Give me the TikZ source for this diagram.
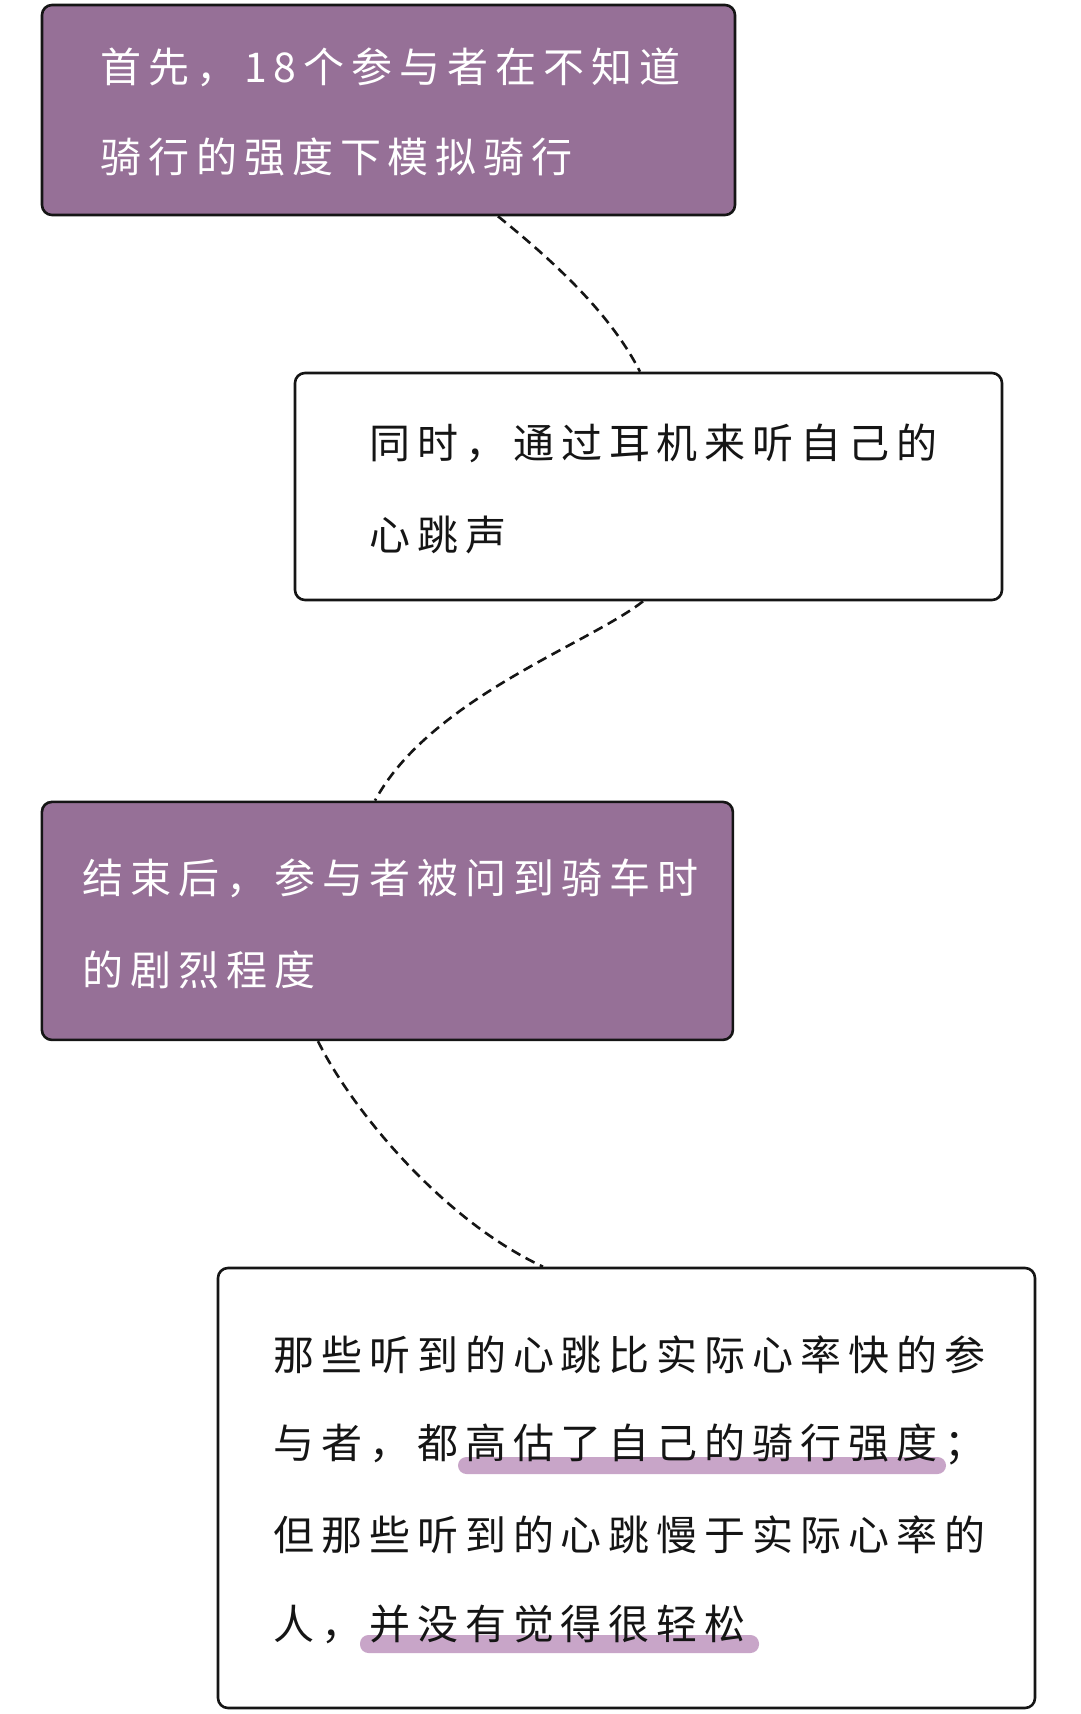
\documentclass[tikz,border=0pt]{standalone}
\usepackage{fontspec}
\newfontfamily\cjk[LetterSpace=17]{Noto Sans CJK SC}
\definecolor{boxpurple}{HTML}{967097}
\definecolor{hilitecol}{HTML}{C8A5C8}
\definecolor{inkblack}{HTML}{151515}
\begin{document}
\begin{tikzpicture}[x=1pt,y=-1pt,
  box/.style={rectangle, draw=inkblack, line width=2.6pt, rounded corners=10pt, inner sep=0pt},
  purplebox/.style={box, fill=boxpurple},
  whitebox/.style={box, fill=white},
  txt/.style={inner sep=0pt, anchor=base west, font=\cjk\fontsize{41}{48}\selectfont},
  wtxt/.style={txt, text=white},
  btxt/.style={txt, text=inkblack},
  hilite/.style={fill=hilitecol, rounded corners=8.5pt},
  link/.style={draw=inkblack, line width=2.6pt, dash pattern=on 10pt off 6pt}
]
\useasboundingbox (0,0) rectangle (1080,1714);
\fill[white] (0,0) rectangle (1080,1714);

% boxes
\node[purplebox, minimum width=693pt, minimum height=210pt] (b1) at (388.5,110) {};
\node[whitebox, minimum width=707pt, minimum height=227pt] (b2) at (648.5,486.5) {};
\node[purplebox, minimum width=691pt, minimum height=238pt] (b3) at (387.4,920.9) {};
\node[whitebox, minimum width=817pt, minimum height=440pt] (b4) at (626.5,1488) {};

% highlights
\fill[hilite] (458,1457) rectangle (946,1474);
\fill[hilite] (360,1635) rectangle (759,1653);

% texts
\node[wtxt] (t1a) at (100,82) {首先，18个参与者在不知道};
\node[wtxt] (t1b) at (100,172) {骑行的强度下模拟骑行};

\node[btxt] (t2a) at (369,458) {同时，通过耳机来听自己的};
\node[btxt] (t2b) at (369,550) {心跳声};

\node[wtxt] (t3a) at (82,893) {结束后，参与者被问到骑车时};
\node[wtxt] (t3b) at (82,985) {的剧烈程度};

\node[btxt] (t4a) at (273,1370) {那些听到的心跳比实际心率快的参};
\node[btxt] (t4b) at (273,1458) {与者，都高估了自己的骑行强度；};
\node[btxt] (t4c) at (273,1550) {但那些听到的心跳慢于实际心率的};
\node[btxt] (t4d) at (273,1639) {人，并没有觉得很轻松};

% connectors
\draw[link] ([xshift=109.5pt]b1.south) .. controls +(62,50) and +(-28,-55) .. ([xshift=-8.5pt]b2.north);
\draw[link] ([xshift=-5.5pt]b2.south) .. controls +(-53,42) and +(55,-102) .. ([xshift=-12.4pt]b3.north);
\draw[link] ([xshift=-69.4pt]b3.south) .. controls +(32,65) and +(-103,-48) .. ([xshift=-83.5pt]b4.north);
\end{tikzpicture}
\end{document}
